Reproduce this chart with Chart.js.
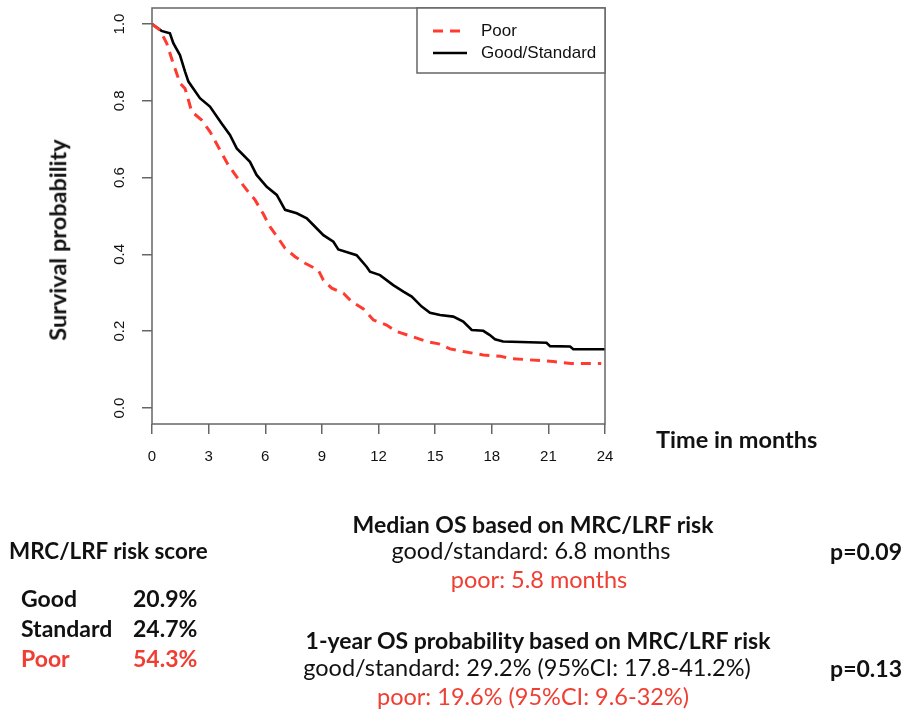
<!DOCTYPE html>
<html>
<head>
<meta charset="utf-8">
<script src="https://cdn.jsdelivr.net/npm/chart.js@4.4.0/dist/chart.umd.min.js"></script>
<style>
html,body{margin:0;padding:0;background:#fff;}
#wrap{position:relative;width:905px;height:714px;overflow:hidden;background:#fff;}
#c{position:absolute;left:0;top:0;}
.t{position:absolute;white-space:nowrap;font-family:Lato,"Open Sans",sans-serif;font-size:23.5px;line-height:1;color:#111;}
.b{font-weight:bold;font-size:23px;}
.r{color:#f03e32;}
.ctr{transform:translate(-50%,-50%);}
.lft{transform:translateY(-50%);}
.rgt{transform:translateY(-50%);text-align:right;}
.rot{transform:translate(-50%,-50%) rotate(-90deg);}
</style>
</head>
<body>
<div id="wrap">
<canvas id="c" width="905" height="714"></canvas>
<div class="t b rot" style="left:58px;top:240px;font-size:23.5px;">Survival probability</div>
<div class="t b lft" style="left:656px;top:440px;font-size:23.5px;">Time in months</div>

<div class="t b lft" style="left:9px;top:551px;font-size:22.4px;">MRC/LRF risk score</div>
<div class="t b lft" style="left:21px;top:598px;">Good</div>
<div class="t b lft" style="left:133px;top:598px;">20.9%</div>
<div class="t b lft" style="left:21px;top:628px;">Standard</div>
<div class="t b lft" style="left:133px;top:628px;">24.7%</div>
<div class="t b lft r" style="left:21px;top:658px;">Poor</div>
<div class="t b lft r" style="left:133px;top:658px;">54.3%</div>

<div class="t b ctr" style="left:533px;top:524px;">Median OS based on MRC/LRF risk</div>
<div class="t ctr" style="left:531px;top:551px;">good/standard: 6.8 months</div>
<div class="t ctr r" style="left:539px;top:580px;">poor: 5.8 months</div>
<div class="t b rgt" style="right:3px;top:551px;">p=0.09</div>

<div class="t b ctr" style="left:538px;top:640px;">1-year OS probability based on MRC/LRF risk</div>
<div class="t ctr" style="left:527px;top:668px;">good/standard: 29.2% (95%CI: 17.8-41.2%)</div>
<div class="t ctr r" style="left:533px;top:697px;">poor: 19.6% (95%CI: 9.6-32%)</div>
<div class="t b rgt" style="right:3px;top:668px;">p=0.13</div>
</div>
<script>
// ---- data ----
const goodTime = [0, 0.5, 0.95, 1.13, 1.48, 1.75, 1.93, 2.54, 3.07, 3.69, 4.13, 4.49, 5.19, 5.54, 6.08, 6.61, 7.05, 7.67, 8.2, 8.64, 9.08, 9.61, 9.87, 10.84, 11.37, 11.55, 12.08, 12.78, 13.32, 13.76, 14.29, 14.73, 15.26, 15.96, 16.49, 16.94, 17.55, 17.9, 18.17, 18.6, 20.9, 21.09, 22.15, 22.32, 24];
const goodSurv = [1.0, 0.982, 0.976, 0.95, 0.919, 0.876, 0.85, 0.807, 0.785, 0.741, 0.711, 0.676, 0.641, 0.607, 0.576, 0.555, 0.516, 0.507, 0.494, 0.472, 0.45, 0.433, 0.413, 0.398, 0.368, 0.355, 0.346, 0.32, 0.303, 0.29, 0.264, 0.248, 0.242, 0.238, 0.225, 0.203, 0.201, 0.19, 0.179, 0.173, 0.17, 0.161, 0.16, 0.153, 0.153];
const poorTime = [0, 0.42, 0.78, 1.04, 1.31, 1.48, 1.75, 1.93, 2.1, 2.63, 3.07, 3.6, 4.04, 4.49, 5.02, 5.46, 5.9, 6.25, 6.69, 7.05, 7.58, 8.11, 8.81, 9.08, 9.52, 10.14, 10.58, 11.2, 11.73, 12.43, 12.96, 13.67, 14.55, 15.2, 15.79, 16.49, 17.55, 18.44, 18.97, 21.26, 22.2, 23.8];
const poorSurv = [1.0, 0.984, 0.95, 0.91, 0.871, 0.846, 0.832, 0.802, 0.772, 0.75, 0.72, 0.672, 0.633, 0.602, 0.568, 0.542, 0.505, 0.472, 0.442, 0.416, 0.394, 0.377, 0.359, 0.333, 0.312, 0.299, 0.277, 0.258, 0.229, 0.216, 0.199, 0.188, 0.173, 0.167, 0.154, 0.147, 0.138, 0.135, 0.129, 0.121, 0.116, 0.116];
const seriesLabels = ["Poor", "Good/Standard"];
const xTicks = [0, 3, 6, 9, 12, 15, 18, 21, 24];
const yTicks = [0, 0.2, 0.4, 0.6, 0.8, 1.0];
const yTickLabels = ["0.0", "0.2", "0.4", "0.6", "0.8", "1.0"];

const RED = '#ff3a2f';
const FRAME = '#666';

const framePlugin = {
  id: 'frame',
  afterDraw(chart) {
    const {ctx, chartArea: a} = chart;
    ctx.save();
    ctx.strokeStyle = FRAME;
    ctx.lineWidth = 1.5;
    ctx.strokeRect(a.left, a.top, a.right - a.left, a.bottom - a.top);
    // legend box (top-right corner of the plot)
    const w = 188, h = 65;
    const x0 = a.right - w, y0 = a.top;
    ctx.fillStyle = '#fff';
    ctx.fillRect(x0, y0, w, h);
    ctx.strokeRect(x0, y0, w, h);
    const ds = chart.data.datasets;
    const rows = [y0 + 23, y0 + 45];
    ds.forEach((d, i) => {
      ctx.beginPath();
      ctx.setLineDash(d.borderDash || []);
      ctx.strokeStyle = d.borderColor;
      ctx.lineWidth = d.borderWidth;
      ctx.moveTo(x0 + 16, rows[i]);
      ctx.lineTo(x0 + 50, rows[i]);
      ctx.stroke();
      ctx.setLineDash([]);
      ctx.fillStyle = '#111';
      ctx.font = '17px "Liberation Sans", Arial, sans-serif';
      ctx.textBaseline = 'middle';
      ctx.textAlign = 'left';
      ctx.fillText(d.label, x0 + 64, rows[i]);
    });
    ctx.restore();
  }
};

const mk = (ts, ss) => ts.map((t, i) => ({x: t, y: ss[i]}));

new Chart(document.getElementById('c').getContext('2d'), {
  type: 'line',
  data: {
    datasets: [
      {label: seriesLabels[0], data: mk(poorTime, poorSurv), borderColor: RED, borderWidth: 3,
       borderDash: [10, 7], pointRadius: 0, tension: 0, fill: false},
      {label: seriesLabels[1], data: mk(goodTime, goodSurv), borderColor: '#000', borderWidth: 2.6,
       pointRadius: 0, tension: 0, fill: false}
    ]
  },
  options: {
    responsive: false,
    animation: false,
    layout: {padding: {left: 0, top: 8, right: 300, bottom: 250}},
    plugins: {legend: {display: false}, tooltip: {enabled: false}},
    scales: {
      x: {
        type: 'linear', min: 0, max: 24,
        afterBuildTicks: s => { s.ticks = xTicks.map(v => ({value: v})); },
        afterFit: s => { s.height = 40; s.paddingLeft = 0; s.paddingRight = 0; },
        grid: {display: true, drawOnChartArea: false, drawTicks: true, tickLength: 10, color: FRAME, lineWidth: 1.5},
        border: {display: false},
        ticks: {color: '#111', font: {family: '"Liberation Sans", Arial, sans-serif', size: 15},
                padding: 14, maxRotation: 0, autoSkip: false}
      },
      y: {
        type: 'linear', min: -0.0417, max: 1.0417,
        afterBuildTicks: s => { s.ticks = yTicks.map(v => ({value: v})); },
        afterFit: s => { s.width = 152; s.paddingTop = 0; s.paddingBottom = 0; },
        grid: {display: true, drawOnChartArea: false, drawTicks: true, tickLength: 10, color: FRAME, lineWidth: 1.5},
        border: {display: false},
        ticks: {color: '#111', font: {family: '"Liberation Sans", Arial, sans-serif', size: 15},
                callback: (v, i) => yTickLabels[i], minRotation: 90, maxRotation: 90,
                crossAlign: 'center', padding: 12, autoSkip: false},
        title: {display: false}
      }
    }
  },
  plugins: [framePlugin]
});
</script>
</body>
</html>
